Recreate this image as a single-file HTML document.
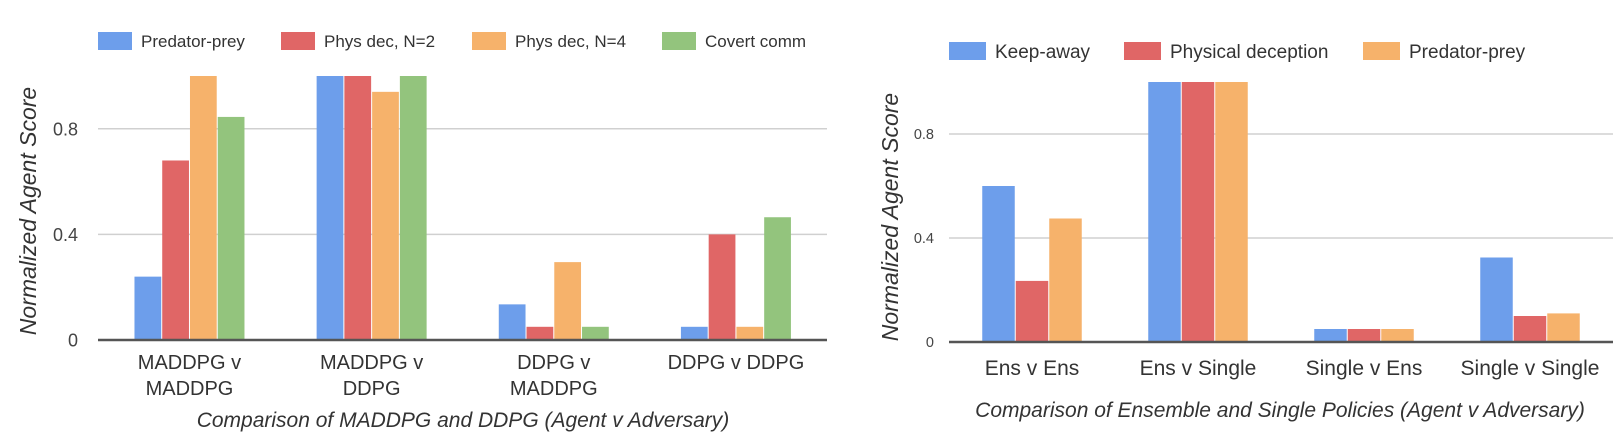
<!DOCTYPE html>
<html><head><meta charset="utf-8"><style>
html,body{margin:0;padding:0;background:#fff;}
svg{display:block;font-family:"Liberation Sans",sans-serif;}
</style></head><body>
<svg id="c" width="1621" height="439"></svg>
<script>
const catsA=["MADDPG v|MADDPG","MADDPG v|DDPG","DDPG v|MADDPG","DDPG v DDPG"];
const seriesA=["Predator-prey","Phys dec, N=2","Phys dec, N=4","Covert comm"];
const valsA0=[0.24,1.0,0.135,0.05];
const valsA1=[0.68,1.0,0.05,0.40];
const valsA2=[1.0,0.94,0.295,0.05];
const valsA3=[0.845,1.0,0.05,0.465];
const catsB=["Ens v Ens","Ens v Single","Single v Ens","Single v Single"];
const seriesB=["Keep-away","Physical deception","Predator-prey"];
const valsB0=[0.60,1.0,0.05,0.325];
const valsB1=[0.235,1.0,0.05,0.10];
const valsB2=[0.475,1.0,0.05,0.11];
const ticks=[0,0.4,0.8];
const tickLabels=["0","0.4","0.8"];
const colors=["#6d9eeb","#e06666","#f6b26b","#93c47d"];
const svg=document.getElementById('c');
const NS="http://www.w3.org/2000/svg";
function mk(t,a,p){const e=document.createElementNS(NS,t);for(const k in a)e.setAttribute(k,a[k]);(p||svg).appendChild(e);return e;}
function chart(cfg){
  const g=mk('g',{});
  
  
  const y=v=>cfg.base-v*cfg.per;
  const band=(cfg.x1-cfg.x0)/cfg.cats.length;
  ticks.forEach((t,i)=>{
    if(t>0){const l=mk('line',{x1:cfg.gridStart,x2:cfg.gridEnd,y1:y(t),y2:y(t),stroke:'#d0d0d0','stroke-width':1.5},g);
    }
    const tx=mk('text',{x:cfg.tickX,y:y(t)+cfg.tickFs*0.36,'text-anchor':'end','font-size':cfg.tickFs,fill:'#444'},g);
    tx.textContent=tickLabels[i];
    
  });
  cfg.vals.forEach((vals,s)=>{
    vals.forEach((v,i)=>{
      const cx=cfg.x0+band*(i+0.5);
      const x=cx-cfg.bw*cfg.vals.length/2+s*cfg.bw;
      const r=mk('rect',{x:x+0.5,y:y(v),width:cfg.bw-1,height:y(0)-y(v),fill:colors[s]},g);
      
    });
  });
  const ax=mk('line',{x1:cfg.gridStart,x2:cfg.gridEnd,y1:cfg.base,y2:cfg.base,stroke:'#555','stroke-width':2.5},g);
  
  cfg.cats.forEach((c,i)=>{
    const cx=cfg.x0+band*(i+0.5);
    c.split('|').forEach((ln,j)=>{
      const t=mk('text',{x:cx,y:cfg.labY+j*cfg.labLH,'text-anchor':'middle','font-size':cfg.labFs,fill:'#333'},g);
      t.textContent=ln;
    });
  });
  const xt=mk('text',{x:cfg.xtX,y:cfg.xtY,'text-anchor':'middle','font-size':cfg.xtFs,'font-style':'italic',fill:'#333'},g);
  xt.textContent=cfg.xtitle;
  const yt=mk('text',{x:0,y:0,'text-anchor':'middle','font-size':23,'font-style':'italic',fill:'#333',transform:`translate(${cfg.ytX},${cfg.ytY}) rotate(-90)`},g);
  yt.textContent='Normalized Agent Score';
  cfg.series.forEach((s,i)=>{
    const lx=cfg.legXs[i];
    const r=mk('rect',{x:lx,y:cfg.legY-9,width:cfg.sw,height:18,fill:colors[i]},g);
    
    const t=mk('text',{x:lx+cfg.sw+9,y:cfg.legY+cfg.legFs*0.36,'font-size':cfg.legFs,fill:'#333'},g);
    t.textContent=s;
  });
}
chart({name:'chart-maddpg-ddpg',cats:catsA,series:seriesA,vals:[valsA0,valsA1,valsA2,valsA3],
  x0:98.4,x1:827,base:340,per:264,bw:27.75,gridStart:98,gridEnd:827,tickX:78,tickFs:18,
  labY:369,labLH:26,labFs:20,xtX:463,xtY:427,xtFs:21,
  xtitle:'Comparison of MADDPG and DDPG (Agent v Adversary)',ytX:36,ytY:211,
  legXs:[98,281,472,662],legY:41,sw:34,legFs:17});
chart({name:'chart-ensemble-single',cats:catsB,series:seriesB,vals:[valsB0,valsB1,valsB2],
  x0:949,x1:1613,base:342,per:260,bw:33.5,gridStart:949,gridEnd:1613,tickX:934,tickFs:14.5,
  labY:375,labLH:24,labFs:21,xtX:1280,xtY:417,xtFs:21,
  xtitle:'Comparison of Ensemble and Single Policies (Agent v Adversary)',ytX:898,ytY:217,
  legXs:[949,1124,1363],legY:51,sw:37,legFs:19});
</script>
</body></html>
